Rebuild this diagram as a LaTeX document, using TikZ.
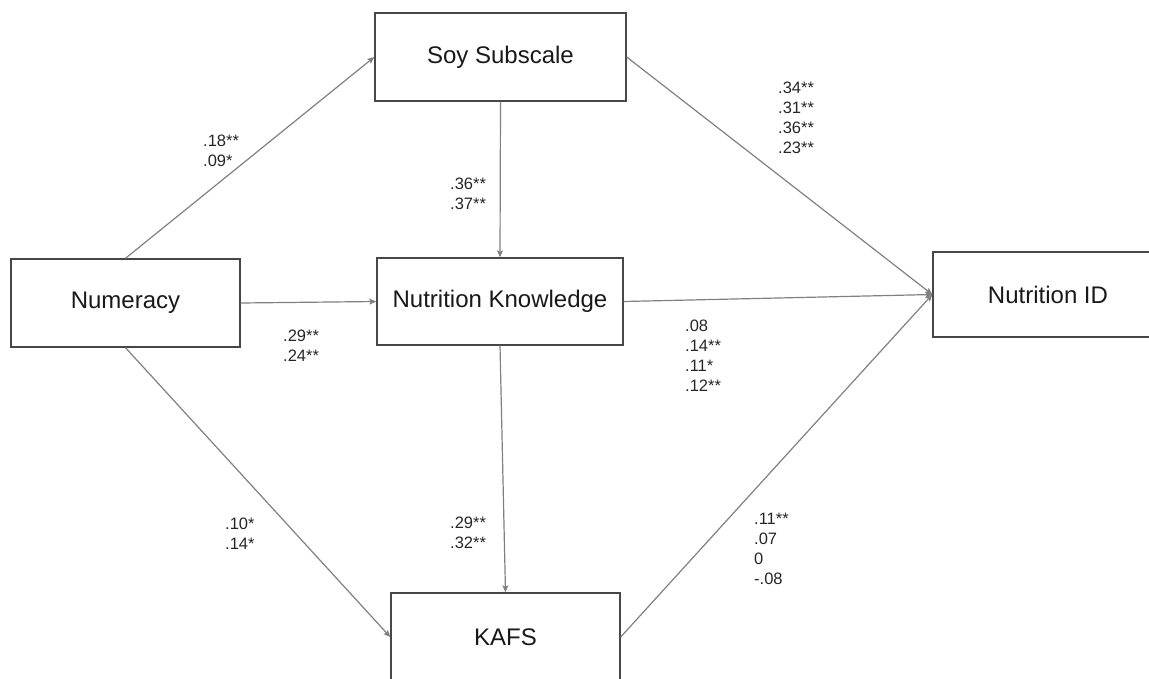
\documentclass[tikz,border=0pt]{standalone}
\usepackage{fontspec}
\setmainfont{Liberation Sans}
\usetikzlibrary{arrows.meta}
\definecolor{boxline}{HTML}{474747}
\definecolor{arrline}{HTML}{808080}

\begin{document}
\begin{tikzpicture}[
  x=1pt, y=-1pt,
  box/.style={draw=boxline, line width=1.4pt, fill=white, inner sep=0pt, align=center, minimum width=229pt, minimum height=88pt, font=\fontsize{24}{28}\selectfont, text=black!90},
  coef/.style={anchor=north west, inner sep=0pt, align=left, font=\fontsize{16.5}{20}\selectfont, text=black!85},
  arr/.style={-{Stealth[length=7pt, width=6pt, inset=1.5pt]}, draw=arrline, line width=1.2pt}
]
  \useasboundingbox (0,0) rectangle (1149,678);

  \node[box] (num) at (125.5,303) {Numeracy};
  \node[box, minimum width=251pt] (soy) at (500.5,57) {Soy Subscale};
  \node[box, minimum width=246pt, minimum height=87pt] (nk) at (500,301.5) {Nutrition Knowledge};
  \node[box] (kafs) at (505.5,637) {KAFS};
  \node[box, minimum width=230pt, minimum height=85pt] (nid) at (1048,294.5) {Nutrition ID};

  \draw[arr] (num.north) -- (soy.west);
  \draw[arr] (num.east) -- (nk.west);
  \draw[arr] (num.south) -- (kafs.west);
  \draw[arr] (soy.south) -- (nk.north);
  \draw[arr] (nk.south) -- (kafs.north);
  \draw[arr] (soy.east) -- (nid.west);
  \draw[arr] (nk.east) -- (nid.west);
  \draw[arr] (kafs.east) -- (nid.west);

  % path coefficients
  \node[coef] (numsoy) at (203,135) {.18**\\.09*};
  \node[coef] (numnk) at (283,330) {.29**\\.24**};
  \node[coef] (numkafs) at (225,518) {.10*\\.14*};
  \node[coef] (soynk) at (450,178) {.36**\\.37**};
  \node[coef] (nkkafs) at (450,517) {.29**\\.32**};
  \node[coef] (soynid) at (778,82) {.34**\\.31**\\.36**\\.23**};
  \node[coef] (nknid) at (685,320) {.08\\.14**\\.11*\\.12**};
  \node[coef] (kafsnid) at (754,513) {.11**\\.07\\0\\-.08};
\end{tikzpicture}
\end{document}
